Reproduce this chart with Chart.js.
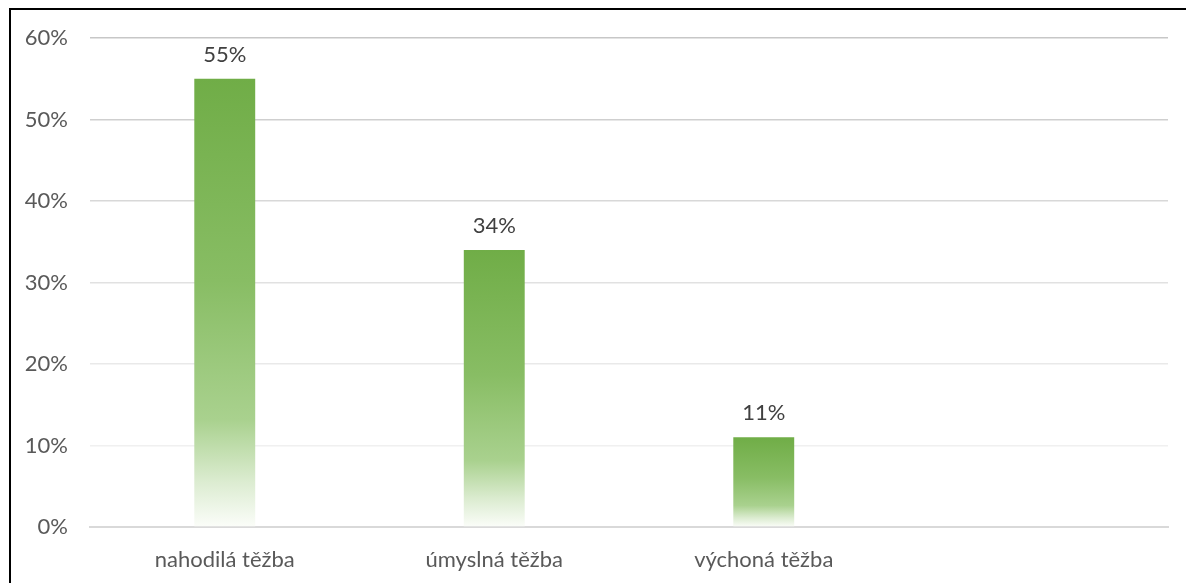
<!DOCTYPE html>
<html>
<head>
<meta charset="utf-8">
<script src="https://cdn.jsdelivr.net/npm/chart.js@4"></script>
<style>
  html, body { margin:0; padding:0; background:#fff; overflow:hidden; }
  #wrap { position:relative; width:1186px; height:583px; }
  #frame { position:absolute; left:9px; top:8px; width:1200px; height:600px;
           border-left:2px solid #000; border-top:2px solid #000; }
  canvas { position:absolute; left:0; top:0; }
</style>
</head>
<body>
<div id="wrap">
  <div id="frame"></div>
  <canvas id="chart" width="1186" height="583"></canvas>
</div>
<script>
// data (4th slot is empty in the source)
const categories = ['nahodilá těžba', 'úmyslná těžba', 'výchoná těžba', ''];
const shares     = [55, 34, 11, null];
const yTicks     = [0, 10, 20, 30, 40, 50, 60];

// gridlines get lighter towards the bottom
const gridColors = ['#d9d9d9', '#f0f0f0', '#e9e9e9', '#e1e1e1', '#d8d8d8', '#cfcfcf', '#c7c7c7'];

const FONT = 'Lato, "Liberation Sans", sans-serif';
const FSIZE = 22;

/* green -> white gradient for each bar */
const barFill = (ctx) => {
  const chart = ctx.chart;
  if (!chart.chartArea || ctx.raw == null) return '#70ad47';
  const y = chart.scales.y;
  const top = y.getPixelForValue(ctx.raw), base = y.getPixelForValue(0);
  const g = chart.ctx.createLinearGradient(0, top, 0, base);
  g.addColorStop(0, '#70ad47');
  g.addColorStop(0.45, '#88bd64');
  g.addColorStop(0.76, '#a9d18e');
  g.addColorStop(0.9, '#dcecd1');
  g.addColorStop(1, '#fbfdf9');
  return g;
};

// value labels above bars
const valueLabels = {
  id: 'valueLabels',
  afterDatasetsDraw(chart) {
    const c = chart.ctx;
    c.save();
    c.font = FSIZE + 'px ' + FONT;
    c.fillStyle = '#404040';
    c.textAlign = 'center';
    c.textBaseline = 'bottom';
    chart.getDatasetMeta(0).data.forEach((bar, i) => {
      if (shares[i] == null) return;
      c.fillText(shares[i] + '%', bar.x, bar.y - 13);
    });
    c.restore();
  }
};

new Chart(document.getElementById('chart'), {
  type: 'bar',
  data: {
    labels: categories,
    datasets: [{
      data: shares,
      backgroundColor: barFill,
      borderWidth: 0,
      barPercentage: 0.226,
      categoryPercentage: 1
    }]
  },
  options: {
    responsive: false,
    animation: false,
    layout: { padding: { left: 0, right: 18, top: 38, bottom: 0 } },
    plugins: { legend: { display: false }, tooltip: { enabled: false } },
    scales: {
      x: {
        grid: { display: false },
        border: { color: '#d9d9d9', width: 2 },
        ticks: { color: '#595959', font: { family: FONT, size: FSIZE }, padding: 12, maxRotation: 0 },
        afterFit: (s) => { s.height = 56; }
      },
      y: {
        min: 0, max: 60,
        afterBuildTicks: (s) => { s.ticks = yTicks.map(v => ({ value: v })); },
        grid: { color: (c) => gridColors[yTicks.indexOf(c.tick.value)] || '#e0e0e0', lineWidth: 1.5, drawTicks: false },
        border: { display: false },
        ticks: { color: '#595959', font: { family: FONT, size: FSIZE }, padding: 22, callback: (v) => v + '%' },
        afterFit: (s) => { s.width = 90; }
      }
    }
  },
  plugins: [valueLabels]
});
</script>
</body>
</html>
